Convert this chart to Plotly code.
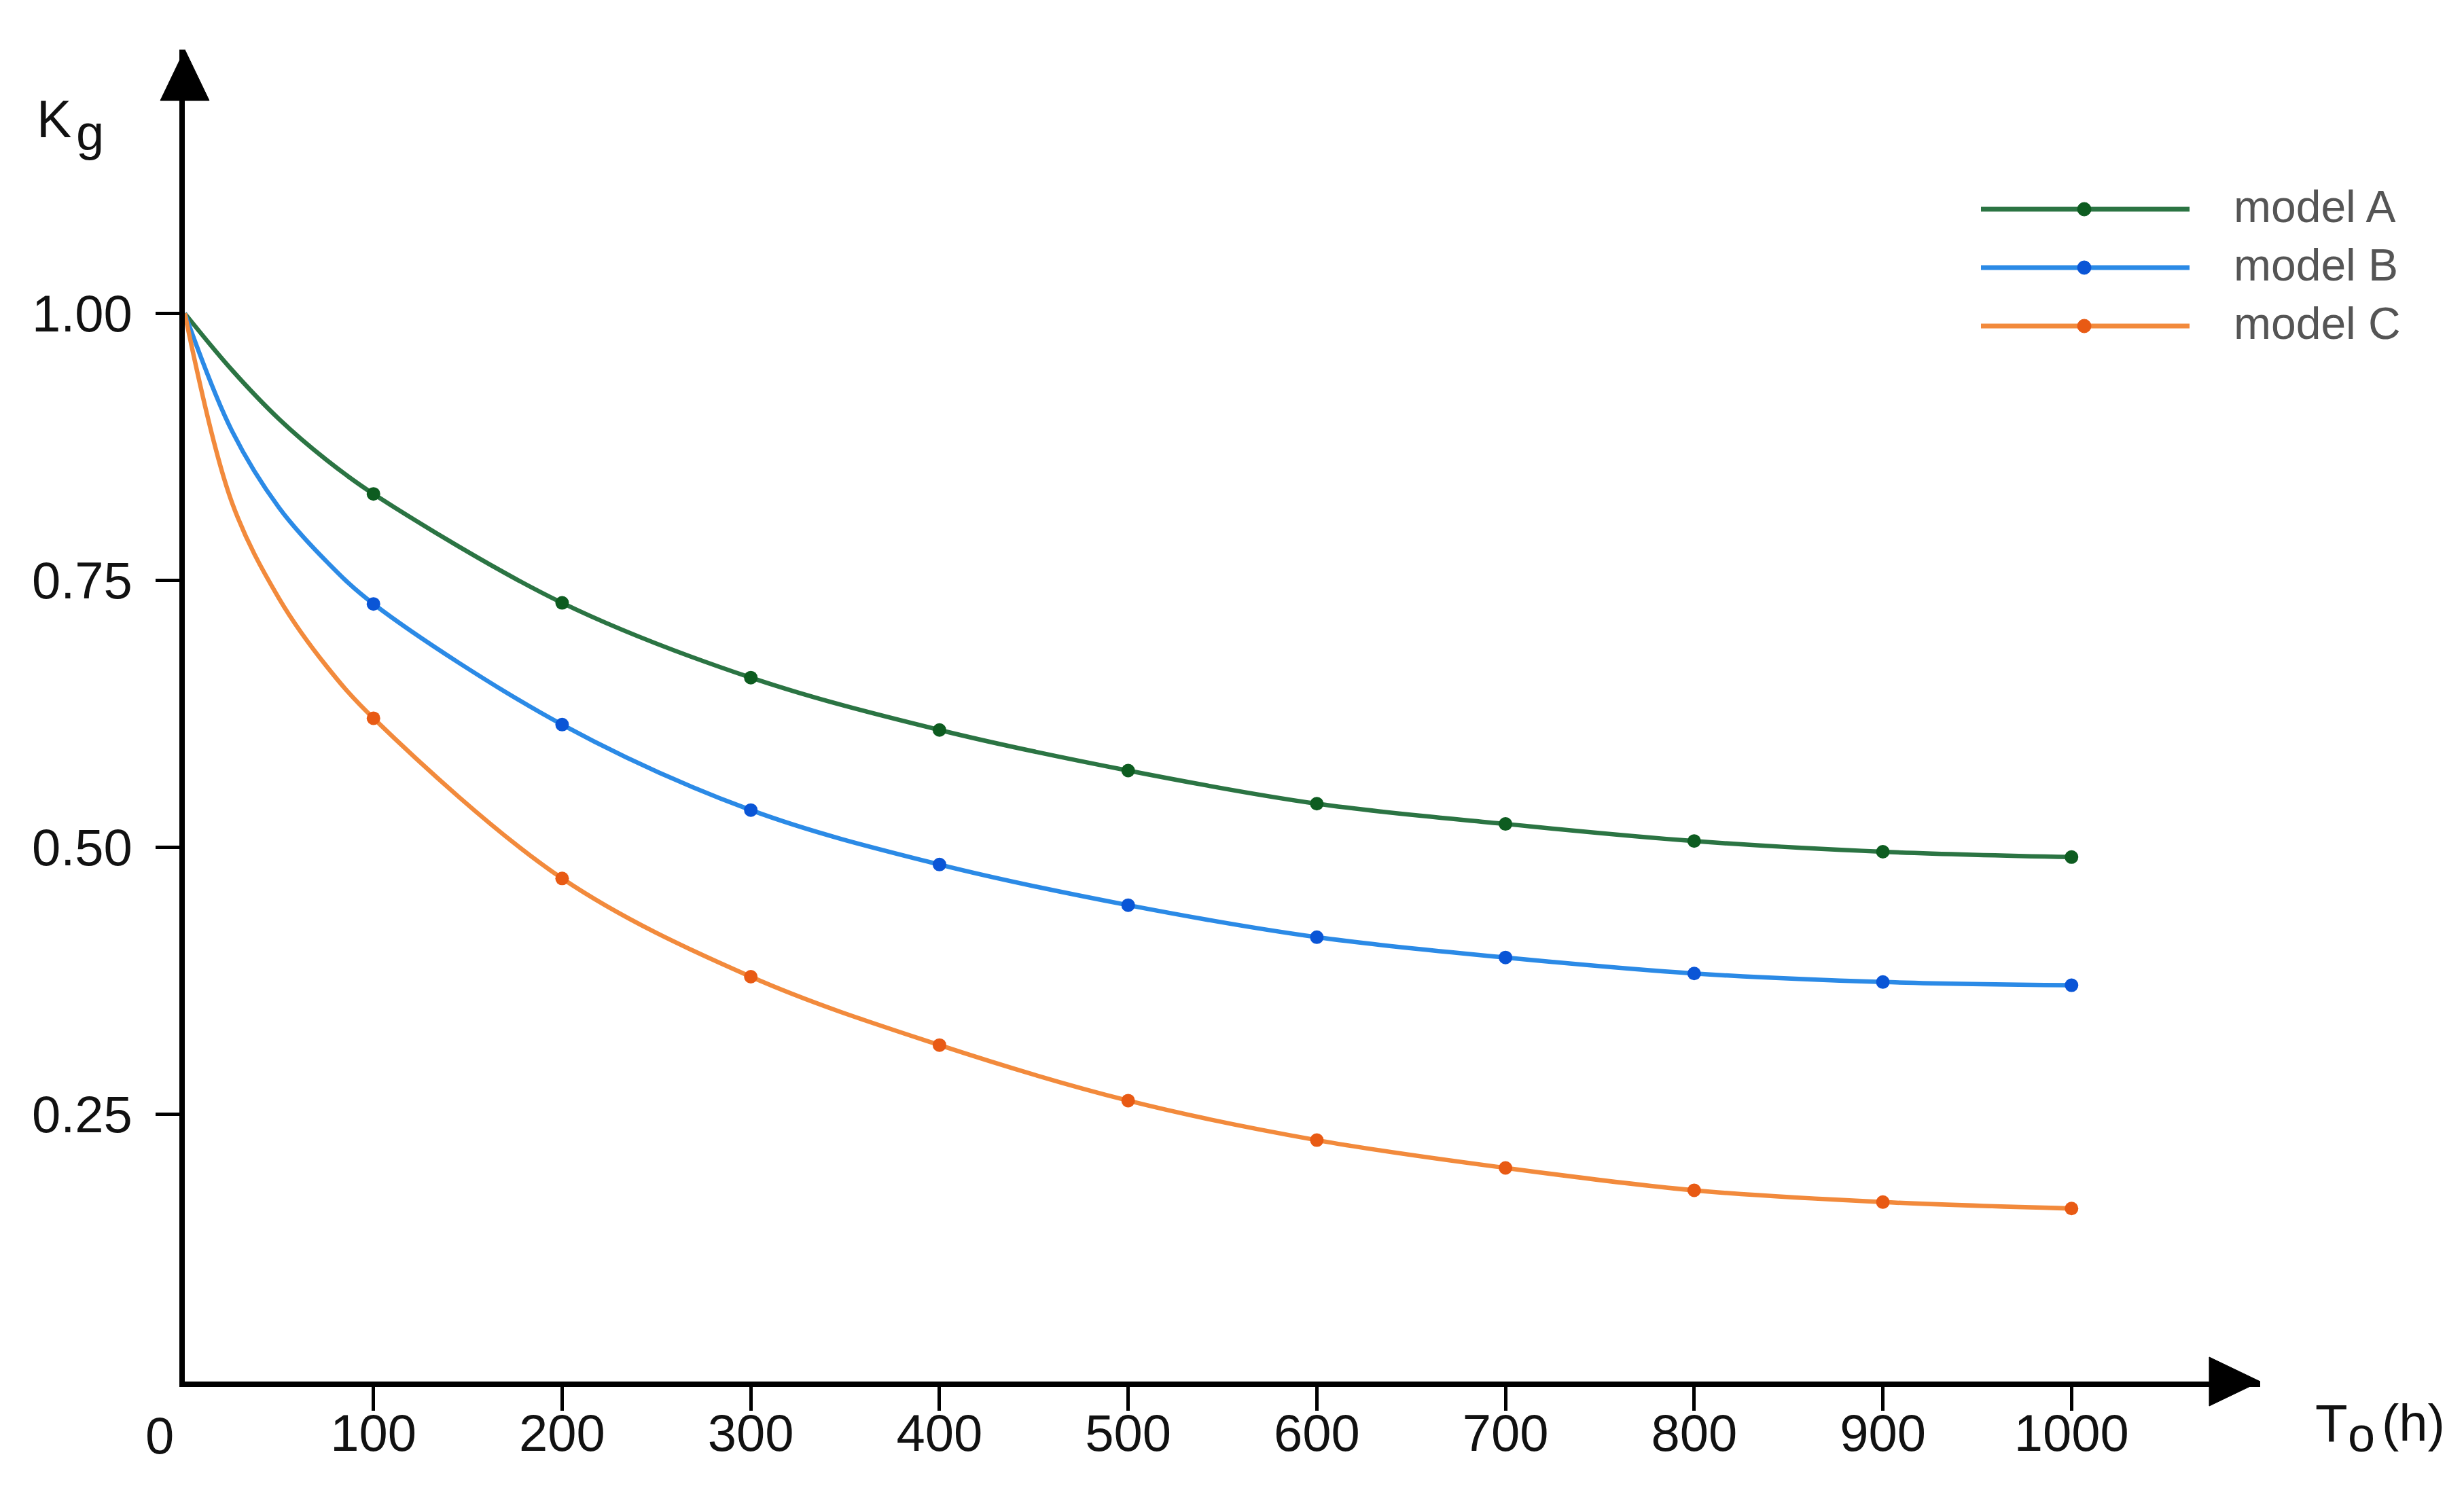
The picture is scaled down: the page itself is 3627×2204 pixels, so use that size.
import plotly.graph_objects as go

# ---- data ----
x_curve = [0, 25, 50, 75, 100, 200, 300, 400, 500, 600, 700, 800, 900, 1000]
model_a_curve = [1.00, 0.947, 0.901, 0.863, 0.831, 0.729, 0.659, 0.610, 0.572, 0.541, 0.522, 0.506, 0.496, 0.491]
model_b_curve = [1.00, 0.890, 0.818, 0.768, 0.728, 0.615, 0.535, 0.484, 0.446, 0.416, 0.397, 0.382, 0.374, 0.371]
model_c_curve = [1.00, 0.823, 0.733, 0.670, 0.621, 0.471, 0.379, 0.315, 0.263, 0.226, 0.200, 0.179, 0.168, 0.162]

x_marks = [100, 200, 300, 400, 500, 600, 700, 800, 900, 1000]
model_a = [0.831, 0.729, 0.659, 0.610, 0.572, 0.541, 0.522, 0.506, 0.496, 0.491]
model_b = [0.728, 0.615, 0.535, 0.484, 0.446, 0.416, 0.397, 0.382, 0.374, 0.371]
model_c = [0.621, 0.471, 0.379, 0.315, 0.263, 0.226, 0.200, 0.179, 0.168, 0.162]

series_names = ["model A", "model B", "model C"]
x_tick_vals = [100, 200, 300, 400, 500, 600, 700, 800, 900, 1000]
x_tick_text = ["100", "200", "300", "400", "500", "600", "700", "800", "900", "1000"]
y_tick_vals = [0.25, 0.50, 0.75, 1.00]
y_tick_text = ["0.25", "0.50", "0.75", "1.00"]

# ---- styling ----
W, H = 3627, 2204
L, R, T, B = 264, 308, 65, 178
X_MAX, Y_MAX = 1100, 1.247
FONT = "Liberation Sans, Arial, sans-serif"
TXT = "#111111"
TICK_FS = 76
line_colors = ["#2b7443", "#2b8ae6", "#f28a3c"]
mark_colors = ["#0d5c20", "#0a55d6", "#e85a14"]

fig = go.Figure()
curves = [model_a_curve, model_b_curve, model_c_curve]
marks = [model_a, model_b, model_c]
for name, yc, ym, lc, mc in zip(series_names, curves, marks, line_colors, mark_colors):
    fig.add_trace(go.Scatter(x=x_curve, y=yc, mode="lines", name=name,
                             line=dict(color=lc, width=6.5, shape="spline", smoothing=1.0),
                             showlegend=False, hoverinfo="skip"))
    fig.add_trace(go.Scatter(x=x_marks, y=ym, mode="markers", name=name,
                             marker=dict(color=mc, size=20), showlegend=False))

fig.update_layout(
    width=W, height=H,
    margin=dict(l=L, r=R, t=T, b=B),
    paper_bgcolor="white", plot_bgcolor="white",
    showlegend=False,
    font=dict(family=FONT, color=TXT, size=TICK_FS),
)
fig.update_xaxes(range=[0, X_MAX], showgrid=False, zeroline=False,
                 showline=True, linecolor="black", linewidth=8,
                 ticks="outside", ticklen=35, tickwidth=5, tickcolor="black",
                 tickvals=x_tick_vals, ticktext=x_tick_text,
                 tickfont=dict(size=TICK_FS, family=FONT, color=TXT),
                 ticklabelstandoff=-32)
fig.update_yaxes(range=[0, Y_MAX], showgrid=False, zeroline=False,
                 showline=True, linecolor="black", linewidth=8,
                 ticks="outside", ticklen=35, tickwidth=5, tickcolor="black",
                 tickvals=y_tick_vals, ticktext=y_tick_text,
                 tickfont=dict(size=TICK_FS, family=FONT, color=TXT),
                 ticklabelstandoff=19)

# axis arrows (paper-anchored so they are not clipped)
fig.add_shape(type="path", xref="paper", yref="paper", xsizemode="pixel", ysizemode="pixel",
              xanchor=1, yanchor=0, path="M -75,36 L 0,0 L -75,-36 Z",
              fillcolor="black", line=dict(color="black", width=1))
fig.add_shape(type="path", xref="paper", yref="paper", xsizemode="pixel", ysizemode="pixel",
              xanchor=0, yanchor=1, path="M -36,-75 L 0,0 L 36,-75 Z",
              fillcolor="black", line=dict(color="black", width=1))

pw, ph = W - L - R, H - T - B
def px(xp):
    return (xp - L) / pw
def py(yp):
    return (H - B - yp) / ph

def label(text, x, y, size, color=TXT, anchor="left"):
    fig.add_annotation(x=px(x), y=py(y), xref="paper", yref="paper", text=text,
                       showarrow=False, xanchor=anchor, yanchor="middle",
                       font=dict(size=size, family=FONT, color=color))

# origin label
label("0", 227, 2105, TICK_FS, anchor="center")
# axis titles: K_g and T_o (h)
label("K", 44, 167, 77)
label("g", 102, 188, 74)
label("T", 3398, 2088, 78)
label("o", 3446, 2104, 72)
label("(h)", 3496, 2086, 76)

# legend
rows_y = [300, 386, 472]
for name, lc, mc, ry in zip(series_names, line_colors, mark_colors, rows_y):
    fig.add_shape(type="line", xref="paper", yref="paper",
                  x0=px(2908), x1=px(3215), y0=py(ry), y1=py(ry),
                  line=dict(color=lc, width=7))
    fig.add_shape(type="circle", xref="paper", yref="paper", xsizemode="pixel", ysizemode="pixel",
                  xanchor=px(3060), yanchor=py(ry), x0=-10, x1=10, y0=-10, y1=10,
                  fillcolor=mc, line=dict(color=mc, width=1))
    label(name, 3278, ry - 4, 66, color="#555555")

fig.write_html("out.html")
